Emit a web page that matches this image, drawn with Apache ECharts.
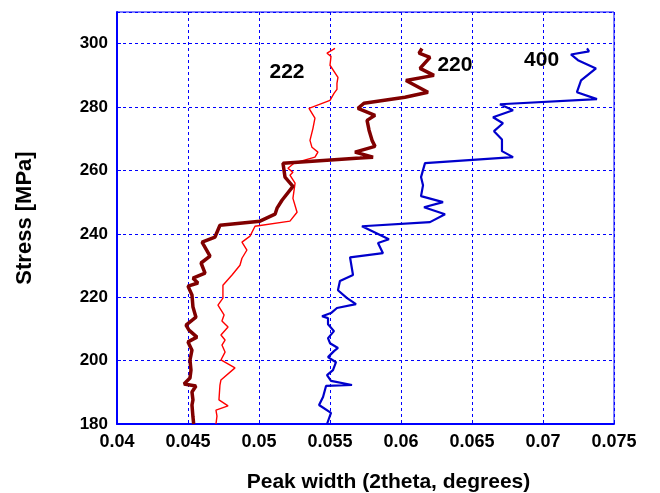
<!DOCTYPE html>
<html><head><meta charset="utf-8">
<script src="https://cdn.jsdelivr.net/npm/echarts@6/dist/echarts.min.js"></script>
<style>html,body{margin:0;padding:0;background:#fff}#c{width:660px;height:493px}</style>
</head><body><div id="c"></div>
<script>
// Series 220 (dark red, thick)
const w220 = [0.0454,0.04535,0.04528,0.04535,0.04528,0.04556,0.04472,0.04514,0.04521,0.04514,0.04528,0.045,0.04563,0.04507,0.04486,0.04556,0.04535,0.04528,0.045,0.0457,0.04535,0.0462,0.04592,0.04655,0.04599,0.0469,0.04725,0.05007,0.05113,0.05127,0.05162,0.05239,0.05183,0.05169,0.05711,0.05803,0.05676,0.05817,0.05796,0.05775,0.05761,0.05817,0.05697,0.05739,0.06028,0.0619,0.06035,0.06232,0.06134,0.06204,0.06127,0.06148];
const s220 = [180,182.2,186.0,187.6,190.1,192.0,192.6,194.5,197.0,200.2,203.3,205.9,207.4,209.6,211.2,213.7,216.9,220.7,223.5,224.5,226.0,227.6,230.8,233.0,237.4,239.0,242.7,244.0,246.2,248.1,250.6,255.0,257.9,262.3,263.9,264.2,265.8,267.6,269.5,272.7,275.8,277.4,279.6,281.2,283.1,284.7,288.4,290.0,292.2,295.7,297.0,298.5];
// Series 222 (red, thin)
const w222 = [0.04697,0.04704,0.04697,0.04782,0.04718,0.04725,0.04732,0.04831,0.04732,0.04761,0.04739,0.04761,0.04732,0.04782,0.04739,0.04754,0.04711,0.04746,0.04746,0.0481,0.04866,0.0488,0.04915,0.0488,0.04937,0.04972,0.05218,0.05268,0.05239,0.05254,0.05218,0.05239,0.05204,0.05246,0.05394,0.05415,0.05373,0.05359,0.0538,0.05394,0.05352,0.055,0.05528,0.05549,0.05549,0.05556,0.055,0.05507,0.05479,0.05535];
const s222 = [180,182.5,184.4,185.7,187.6,192.3,193.9,197.7,200.2,202.7,204.9,206.5,208.1,210.6,212.5,214.4,217.5,219.7,223.8,227.0,230.1,232.3,234.9,237.4,239.3,242.4,244.0,246.8,251.2,256.0,258.5,259.4,260.7,262.3,264.2,265.8,267.3,269.5,273.3,276.5,279.6,282.1,284.3,285.6,287.5,289.4,293.2,296.0,297.0,298.5];
// Series 400 (blue)
const w400 = [0.05479,0.05507,0.05423,0.05451,0.05472,0.05655,0.05507,0.05479,0.05521,0.05542,0.05486,0.05528,0.05556,0.055,0.05486,0.05528,0.05486,0.05486,0.05444,0.05507,0.05549,0.05683,0.0562,0.05556,0.0557,0.05662,0.05641,0.05873,0.05838,0.05915,0.05725,0.06204,0.0631,0.06162,0.06296,0.06141,0.06155,0.06141,0.06169,0.06789,0.06711,0.06711,0.06655,0.06718,0.06648,0.06789,0.06697,0.0738,0.07239,0.07268,0.07373,0.07246,0.07197,0.07324,0.0731];
const s400 = [180,183.5,186.0,188.5,192.0,192.3,193.6,195.4,197.0,199.5,201.1,203.0,204.0,205.5,207.1,209.3,211.5,213.4,214.0,215.0,216.6,217.8,219.7,222.2,225.1,227.0,232.6,233.9,237.1,238.3,242.4,243.7,246.2,248.4,250.0,251.9,255.3,257.9,262.3,264.2,266.1,269.8,272.4,274.9,276.8,279.0,280.9,282.5,284.7,288.4,292.2,294.8,296.6,297.6,298.5];
const seriesNames = ['220','222','400'];
const labelPos = {'222':[0.05197,291.0],'220':[0.0638,293.2],'400':[0.0699,294.8]};
const xTicks = {min:0.04, max:0.075, interval:0.005};
const yTicks = {min:180, max:310, interval:20};

const zip = (a,b)=>a.map((v,i)=>[v,b[i]]);
const FONT = 'Liberation Sans, Arial, sans-serif';
const BLUE = '#0000ff';
function mk(name, data, color, width){
  return {type:'line', name, data, showSymbol:false, symbol:'none', animation:false,
    lineStyle:{color, width}, itemStyle:{color},
    markPoint:{symbol:'circle', symbolSize:0, silent:true,
      data:[{coord:labelPos[name], value:name}],
      label:{show:true, formatter:name, color:'#000', fontWeight:'bold', fontSize:21, fontFamily:FONT, position:'inside'}}};
}
const chart = echarts.init(document.getElementById('c'), null, {renderer:'canvas'});
chart.setOption({
  backgroundColor:'#fff',
  animation:false,
  grid:{left:117, top:12, width:497, height:412, show:true, borderColor:BLUE, borderWidth:1, containLabel:false, outerBoundsMode:'none'},
  xAxis:{type:'value', min:xTicks.min, max:xTicks.max, interval:xTicks.interval,
    name:'Peak width (2theta, degrees)', nameLocation:'middle', nameGap:48,
    nameTextStyle:{fontWeight:'bold', fontSize:21, fontFamily:FONT, color:'#000', padding:[0,0,0,46]},
    axisLine:{show:true, lineStyle:{color:BLUE, width:2}},
    axisTick:{show:true, inside:true, length:4, lineStyle:{color:BLUE}},
    axisLabel:{color:'#000', fontWeight:'bold', fontSize:18, fontFamily:FONT, margin:9,
      formatter:v=>String(+v.toFixed(3))},
    splitLine:{show:true, lineStyle:{color:BLUE, type:[3,3], width:1}}},
  yAxis:{type:'value', min:yTicks.min, max:yTicks.max, interval:yTicks.interval,
    name:'Stress [MPa]', nameLocation:'middle', nameGap:81, nameRotate:90,
    nameTextStyle:{fontWeight:'bold', fontSize:22, fontFamily:FONT, color:'#000'},
    axisLine:{show:true, lineStyle:{color:BLUE, width:2}},
    axisTick:{show:true, inside:true, length:4, lineStyle:{color:BLUE}},
    axisLabel:{color:'#000', fontWeight:'bold', fontSize:17, fontFamily:FONT, margin:9, showMaxLabel:false,
      formatter:v=>(v>300?'':String(v))},
    splitLine:{show:true, lineStyle:{color:BLUE, type:[3,3], width:1}}},
  series:[
    mk('222', zip(w222,s222), '#ff0000', 1.4),
    mk('220', zip(w220,s220), '#800000', 3.5),
    mk('400', zip(w400,s400), '#0000cc', 2.2)
  ]
});
</script></body></html>
